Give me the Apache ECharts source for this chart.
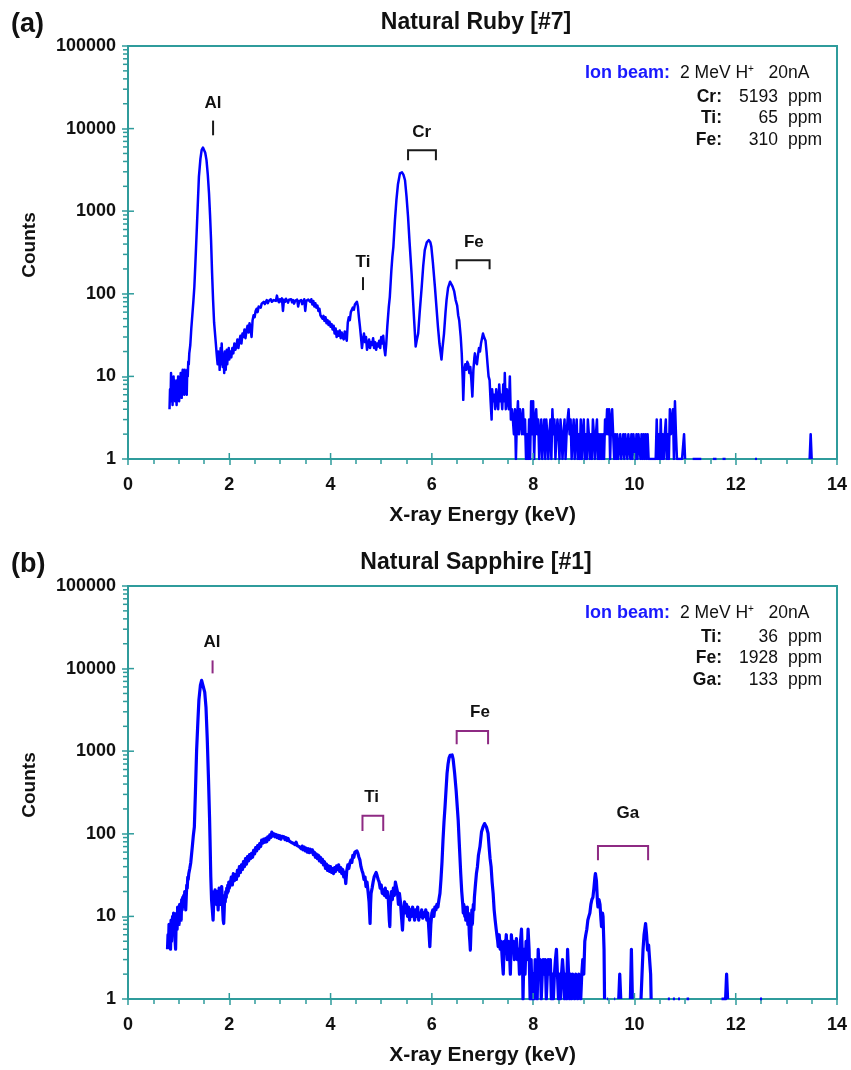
<!DOCTYPE html>
<html><head><meta charset="utf-8">
<script src="https://cdn.jsdelivr.net/npm/echarts@6/dist/echarts.min.js"></script>
<style>html,body{margin:0;padding:0;background:#fff}#c{width:851px;height:1070px}</style>
</head><body><div id="c"></div>
<script>
// ---------- DATA ----------
const xTicks = [0, 2, 4, 6, 8, 10, 12, 14];
const yTicks = [1, 10, 100, 1000, 10000, 100000];
const panelLetters = ['(a)', '(b)'];
const panelTitles = ['Natural Ruby [#7]', 'Natural Sapphire [#1]'];
const xTitle = 'X-ray Energy (keV)';
const yTitle = 'Counts';
const beamLabel = 'Ion beam:';
const beamText = ['2 MeV H', '+', '   20nA'];

// Ruby spectrum: [energy keV, counts]; null = zero counts
const rubySpectrum = [
[0.82,4],[0.83,7],[0.84,5],[0.85,11],[0.86,6],[0.87,9],[0.88,4.5],[0.89,8],[0.90,10],[0.91,6],[0.92,9],[0.93,5],[0.94,8],[0.95,7],[0.96,4.5],[0.97,9],[0.98,6],[0.99,10],[1.00,7],[1.01,5],[1.02,9],[1.03,6],[1.04,11],[1.05,8],[1.06,5.5],[1.07,10],[1.08,12],[1.09,7],[1.10,11],[1.11,6],[1.12,12],[1.13,8],[1.14,11],[1.15,9],[1.16,6],[1.17,12],[1.18,10],[1.19,15],[1.20,14],[1.21,19],
[1.23,24],[1.25,38],[1.27,55],[1.29,80],[1.31,121],[1.33,230],[1.355,537],[1.38,1300],[1.40,2600],[1.43,4300],[1.454,5480],[1.48,5900],[1.50,5750],[1.525,5100],[1.55,4150],[1.575,2800],[1.60,1630],[1.62,900],[1.64,446],[1.66,180],[1.68,84],[1.70,45],[1.73,27],[1.75,19],
[1.77,14],[1.78,20],[1.79,15],[1.80,17],[1.81,12],[1.82,18],[1.83,22],[1.84,14],[1.85,25],[1.86,17],[1.87,13],[1.88,19],[1.89,16],[1.90,11],[1.91,20],[1.92,15],[1.93,12],[1.94,18],[1.95,21],[1.96,14],[1.97,19],[1.98,17],[1.99,22],[2.00,16],
[2.02,20],[2.04,17],[2.06,22],[2.08,19],[2.10,25],[2.12,21],[2.14,23],[2.16,28],[2.18,22],[2.20,27],[2.22,31],[2.24,25],[2.26,33],[2.28,30],[2.30,37],[2.32,29],[2.34,36],[2.36,41],[2.38,34],[2.40,44],[2.42,38],[2.44,30],[2.46,48],[2.48,55],[2.50,52],[2.52,62],[2.54,66],[2.56,60],[2.58,70],
[2.60,72],[2.62,68],[2.64,76],[2.66,73],[2.68,80],[2.70,75],[2.72,78],[2.74,84],[2.76,77],[2.78,82],[2.80,79],[2.82,86],[2.84,80],[2.86,76],[2.88,84],[2.90,88],[2.92,82],[2.94,95],[2.96,84],[2.98,79],[3.00,86],[3.02,81],[3.04,88],[3.06,62],[3.08,85],[3.10,80],[3.12,87],[3.14,83],[3.16,78],[3.18,85],[3.20,82],[3.22,86],[3.24,79],[3.26,84],[3.28,76],[3.30,82],[3.32,79],[3.34,85],[3.36,70],[3.38,81],[3.40,77],[3.42,84],[3.44,75],[3.46,80],[3.48,86],[3.50,62],[3.52,82],[3.54,78],[3.56,85],[3.58,88],[3.60,80],[3.62,86],[3.64,74],[3.66,82],[3.68,70],
[3.70,77],[3.72,68],[3.74,72],[3.76,62],[3.78,66],[3.80,55],[3.82,58],[3.84,50],[3.86,54],[3.88,47],[3.90,52],[3.92,44],[3.94,48],[3.96,42],[3.98,46],[4.00,40],[4.02,43],[4.04,37],[4.06,41],[4.08,33],[4.10,38],[4.12,30],[4.14,35],[4.16,31],[4.18,36],[4.20,29],[4.22,34],[4.24,30],[4.26,28],[4.28,35],[4.30,30],[4.32,27],
[4.34,45],[4.36,52],[4.38,48],[4.40,60],[4.42,58],[4.44,68],[4.46,64],[4.48,74],[4.50,78],[4.52,80],[4.54,70],[4.56,52],[4.58,40],[4.60,30],[4.62,22],[4.64,28],[4.66,33],[4.68,26],[4.70,30],[4.72,21],[4.74,24],[4.76,28],[4.78,22],[4.80,26],[4.82,24],[4.84,29],[4.86,22],[4.88,26],[4.90,21],[4.92,25],[4.94,23],[4.96,27],[4.98,22],[5.00,30],[5.02,25],[5.04,31],[5.06,22],[5.08,18],[5.10,25],
[5.12,40],[5.15,70],[5.17,92],[5.20,190],[5.22,280],[5.24,370],[5.27,760],[5.30,1360],[5.33,2100],[5.37,2870],[5.41,2960],[5.44,2750],[5.47,2370],[5.50,1500],[5.53,855],[5.56,420],[5.60,175],[5.63,80],[5.65,48],[5.68,23],[5.70,27],[5.73,33],[5.76,60],[5.80,122],[5.83,220],[5.86,338],[5.90,420],[5.94,446],[5.97,420],[5.99,370],[6.02,240],[6.06,122],[6.09,70],[6.12,40],[6.15,25],[6.19,16],[6.21,22],[6.24,33],[6.27,60],[6.29,84],[6.32,118],[6.36,140],[6.38,138],[6.41,122],[6.44,108],[6.47,84],[6.50,72],[6.52,55],[6.54,48],[6.57,30],[6.59,19],[6.61,9],[6.62,5.2],
[6.64,12],[6.66,14],[6.68,12],[6.70,15],[6.72,14],[6.74,11],[6.76,13],[6.78,9],[6.80,5.7],[6.82,12],[6.84,17],[6.85,19],[6.87,15],[6.89,14],[6.91,18],[6.93,22],[6.95,20],[6.97,25],[6.99,24],[7.01,33],[7.03,30],[7.06,27],[7.08,20],[7.10,14],[7.12,10],[7.14,9],[7.16,5],[7.18,3],[7.19,7],[7.21,5],[7.23,6],[7.25,4],[7.27,7],[7.29,5],[7.31,4],[7.33,8],[7.35,5],[7.37,6],[7.39,4],[7.41,8],[7.43,5],[7.44,11],[7.46,4],[7.48,7],[7.50,5],[7.52,4],[7.54,10],[7.56,3],[7.58,4],
[7.60,3],[7.62,2],[7.64,4],[7.66,1],[7.68,3],[7.70,5],[7.72,2],[7.74,4],[7.76,3],[7.78,2],[7.80,4],[7.82,2],[7.84,3],[7.86,1],[7.88,2],[7.90,1],[7.92,3],[7.94,1],[7.96,5],[7.98,2],[8.00,5],[8.02,1],[8.04,3],[8.06,4],[8.08,2],[8.10,3],[8.12,1],[8.14,2],[8.16,3],[8.18,1],[8.20,2],[8.22,3],[8.24,1],[8.26,3],[8.28,2],[8.30,1],[8.32,2],[8.34,3],[8.36,1],[8.38,4],[8.40,2],[8.42,3],[8.44,1],[8.46,2],[8.48,3],[8.50,2],[8.52,1],[8.54,3],[8.56,2],[8.58,1],[8.60,2],[8.62,3],[8.64,1],[8.66,2],[8.68,3],[8.70,4],[8.72,2],[8.74,3],[8.76,1],[8.78,2],[8.80,3],[8.82,1],[8.84,2],[8.86,3],[8.88,1],[8.90,2],[8.92,1],[8.94,3],[8.96,1],[8.98,2],
[9.00,3],[9.02,1],[9.04,2],[9.06,1],[9.08,3],[9.10,2],[9.12,1],[9.14,2],[9.16,1],[9.18,3],[9.20,2],[9.22,1],[9.24,2],[9.26,3],[9.28,1],[9.30,2],[9.32,1],[9.34,2],[9.36,1],[9.38,2],[9.40,1],[9.42,3],[9.44,2],[9.46,4],[9.48,2],[9.50,4],[9.52,1],[9.54,3],[9.56,4],[9.58,2],[9.60,1],[9.62,2],[9.64,1],[9.66,2],[9.68,1],[9.70,1],[9.72,2],[9.74,1],[9.76,1],[9.78,2],[9.80,1],[9.82,2],[9.84,2],[9.86,1],[9.88,2],[9.90,2],[9.92,1],[9.94,2],[9.96,1],[9.98,2],
[10.00,2],[10.02,1],[10.04,2],[10.06,1],[10.08,2],[10.10,2],[10.12,1],[10.14,2],[10.16,1],[10.18,2],[10.20,1],[10.22,2],[10.24,1],[10.26,2],[10.28,1],[10.30,1],[10.34,1],[10.38,1],[10.42,1],[10.44,3],[10.46,1],[10.48,2],[10.50,1],[10.52,3],[10.54,1],[10.56,2],[10.58,1],[10.60,2],[10.62,3],[10.64,1],[10.66,2],[10.68,1],[10.70,4],[10.72,2],[10.74,3],[10.76,4],[10.78,1],[10.80,5],[10.82,2],[10.84,1],[10.86,1],[10.90,1],[10.94,1],[10.98,2],[11.00,1],[11.02,null],
[11.15,1],[11.32,1],[11.34,null],[11.55,1],[11.62,1],[11.64,null],[11.74,1],[11.80,1],[11.82,null],[12.38,1],[12.42,1],[12.44,null],[13.46,1],[13.48,2],[13.50,1],[13.52,null]
];

// Sapphire spectrum: [energy keV, counts]; null = zero counts
const sapphireSpectrum = [
[0.78,4],[0.79,6],[0.80,4.5],[0.81,8],[0.82,5],[0.83,7.5],[0.84,4],[0.85,9],[0.86,5],[0.87,7],[0.88,10],[0.89,6],[0.90,11],[0.91,7],[0.92,9],[0.93,5],[0.94,4],[0.95,8],[0.96,11],[0.97,7],[0.98,13],[0.99,9],[1.00,12],[1.01,8],[1.02,14],[1.03,10],[1.04,13],[1.05,9],[1.06,16],[1.07,12],[1.08,17],[1.09,13],[1.10,18],[1.11,14],[1.12,20],[1.13,15],[1.14,12],[1.15,17],[1.16,24],[1.17,22],[1.18,30],[1.19,28],[1.20,33],[1.22,38],
[1.24,45],[1.27,70],[1.29,95],[1.31,121],[1.33,300],[1.355,1030],[1.38,2300],[1.40,4150],[1.43,6300],[1.454,7200],[1.47,7300],[1.49,6900],[1.515,5200],[1.54,3400],[1.565,1400],[1.59,446],[1.61,160],[1.62,84],[1.635,30],[1.65,15.8],[1.665,12],[1.68,9],
[1.70,20],[1.71,17],[1.72,21],[1.73,16],[1.74,19],[1.75,14],[1.76,20],[1.77,17],[1.78,12],[1.79,18],[1.80,22],[1.81,16],[1.82,19],[1.83,14],[1.84,20],[1.85,23],[1.86,17],[1.87,12],[1.88,9],[1.89,8.2],[1.90,12],[1.91,18],[1.92,15],[1.93,20],[1.94,17],[1.95,22],[1.96,19],[1.97,24],[1.98,20],[1.99,26],[2.00,22],[2.02,25],
[2.04,30],[2.06,24],[2.08,33],[2.10,27],[2.12,32],[2.14,28],[2.16,36],[2.18,31],[2.20,40],[2.22,34],[2.24,42],[2.26,37],[2.28,46],[2.30,40],[2.32,50],[2.34,43],[2.36,53],[2.38,47],[2.40,56],[2.42,50],[2.44,58],[2.46,52],[2.48,63],[2.50,57],[2.52,68],[2.54,62],[2.56,72],[2.58,66],[2.60,76],[2.62,70],[2.64,84],[2.66,77],[2.68,86],[2.70,79],[2.72,88],[2.74,80],[2.76,92],[2.78,85],[2.80,97],[2.82,90],[2.84,105],[2.86,94],[2.88,100],[2.90,92],[2.92,98],[2.94,90],[2.96,96],[2.98,88],[3.00,95],
[3.02,86],[3.04,93],[3.06,88],[3.08,92],[3.10,85],[3.12,90],[3.14,83],[3.16,88],[3.18,82],[3.20,86],[3.22,79],[3.24,83],[3.26,77],[3.28,81],[3.30,74],[3.32,79],[3.34,72],[3.36,76],[3.38,70],[3.40,74],[3.42,66],[3.44,71],[3.46,64],[3.48,69],[3.50,62],[3.52,67],[3.54,60],[3.56,66],[3.58,59],[3.60,65],[3.62,60],[3.64,64],[3.66,56],[3.68,60],[3.70,52],[3.72,57],[3.74,50],[3.76,55],[3.78,47],[3.80,52],[3.82,45],[3.84,49],[3.86,42],[3.88,46],[3.90,38],[3.92,43],[3.94,36],[3.96,41],[3.98,35],[4.00,40],[4.02,34],[4.04,38],[4.06,33],[4.08,39],[4.10,35],[4.12,41],[4.14,37],[4.16,42],[4.18,35],[4.20,39],[4.22,33],[4.24,37],[4.26,30],[4.28,34],[4.30,25],[4.32,36],
[4.34,42],[4.36,38],[4.38,44],[4.40,48],[4.42,45],[4.44,55],[4.46,52],[4.48,60],[4.50,63],[4.52,62],[4.54,58],[4.56,52],[4.58,48],[4.60,40],[4.62,36],[4.64,33],[4.66,28],[4.68,30],[4.70,23],[4.72,26],[4.74,20],[4.76,15],[4.78,8.2],[4.79,14],[4.80,19],[4.82,22],[4.84,26],[4.86,30],[4.88,32],[4.90,34],[4.92,31],[4.94,28],[4.96,26],[4.98,22],[5.00,24],[5.02,19],[5.04,21],[5.06,18],[5.08,22],[5.10,17],[5.12,20],[5.14,16],[5.16,9],[5.17,7.5],[5.18,13],[5.20,20],[5.22,16],[5.24,22],[5.26,18],[5.28,26],[5.30,27],[5.32,20],[5.34,14],[5.36,19],[5.38,15],[5.40,10],[5.42,6.8],[5.44,12],[5.46,15],[5.48,11],[5.50,14],[5.52,10],[5.54,13],[5.56,9],[5.58,12],[5.60,10],[5.62,13],[5.64,11],[5.66,9],[5.68,12],[5.70,10],[5.72,13],[5.74,9],[5.76,11],[5.78,10],[5.80,12],[5.82,9.5],[5.84,11],[5.86,10],[5.88,12],[5.90,9],[5.92,11],[5.94,7],[5.96,4.3],[5.98,8],[6.00,11],[6.02,12],[6.04,10],[6.06,13],[6.08,12],[6.10,14],[6.12,13],[6.14,16],[6.16,19],[6.18,28],
[6.20,45],[6.22,84],[6.24,140],[6.26,212],[6.28,340],[6.30,540],[6.32,700],[6.34,830],[6.36,890],[6.38,930],[6.40,900],[6.42,800],[6.45,540],[6.48,330],[6.50,220],[6.52,146],[6.54,80],[6.57,33],[6.59,20],[6.61,14],[6.62,11],[6.63,14],[6.65,10],[6.66,13],[6.67,9],[6.68,12],[6.69,10],[6.70,13],[6.71,8],[6.72,11],[6.73,9],[6.74,6],[6.75,5],[6.76,3.9],[6.77,6],[6.78,9],[6.79,12],[6.80,8],[6.81,11],[6.82,14],[6.83,12],[6.84,17],[6.86,24],[6.88,33],[6.90,40],[6.92,55],[6.95,70],[6.98,105],[7.01,121],[7.04,133],[7.06,128],[7.08,120],[7.11,101],[7.13,70],[7.15,50],[7.17,40],[7.19,26],[7.21,19],[7.23,12],[7.25,9],[7.27,7],[7.28,6.8],[7.30,5],[7.31,4.3],
[7.33,6],[7.35,4],[7.37,5],[7.39,3],[7.41,2],[7.43,5],[7.45,4],[7.47,6],[7.49,3],[7.51,5],[7.53,4],[7.55,2],[7.57,6],[7.59,4],[7.61,5],[7.63,3],[7.65,4],[7.67,5.4],[7.69,3],[7.71,4],[7.73,2],[7.75,5],[7.77,7],[7.79,3],[7.80,1],[7.82,4],[7.84,2],[7.86,5],[7.88,3],[7.90,7],[7.92,4],[7.94,1],
[7.96,3],[7.98,1],[8.00,2],[8.02,1],[8.04,3],[8.06,2],[8.08,1],[8.10,4],[8.12,2],[8.14,3],[8.16,1],[8.18,2],[8.20,3],[8.22,2],[8.24,3],[8.26,1],[8.28,2],[8.30,3],[8.32,2],[8.34,3],[8.36,1],[8.38,2],[8.40,1],[8.42,2],[8.44,3],[8.46,4],[8.48,2],[8.50,1],[8.52,2],[8.54,1],[8.56,2],[8.58,3],[8.60,2],[8.62,1],[8.64,2],[8.66,1],[8.68,4],[8.70,2],[8.72,1],[8.74,2],[8.76,1],[8.78,2],[8.80,2],[8.82,1],[8.84,2],[8.86,2],[8.88,1],[8.90,2],[8.92,2],[8.94,1],[8.96,2],[8.98,3],[9.00,2],[9.02,5],[9.04,6],
[9.06,7],[9.08,9],[9.10,10],[9.12,11],[9.14,14],[9.16,16],[9.18,17],[9.20,22],[9.22,30],[9.23,33],[9.25,27],[9.27,15],[9.28,13],[9.30,16],[9.32,14],[9.34,9],[9.35,7.5],[9.37,11],[9.38,10],[9.40,4],[9.41,1],[9.43,null],
[9.46,1],[9.48,1],[9.50,null],[9.60,1],[9.62,1],[9.64,null],[9.69,1],[9.71,2],[9.73,1],[9.75,null],[9.92,1],[9.94,4],[9.96,1],[9.98,null],[10.13,1],[10.15,2],[10.17,4],[10.19,6],[10.22,8.2],[10.24,6],[10.26,3.9],[10.28,4.5],[10.30,4.3],[10.32,2],[10.33,1],[10.35,null],
[10.66,1],[10.70,1],[10.72,null],[10.76,1],[10.80,1],[10.82,null],[10.86,1],[10.90,1],[10.92,null],[11.03,1],[11.08,1],[11.10,null],[11.72,1],[11.76,1],[11.80,1],[11.82,2],[11.84,1],[11.86,null],[12.48,1],[12.52,1],[12.54,null]
];

// composition tables
const rubyElements = ['Cr:', 'Ti:', 'Fe:'];
const rubyPpm = [5193, 65, 310];
const sapphireElements = ['Ti:', 'Fe:', 'Ga:'];
const sapphirePpm = [36, 1928, 133];

// peak markers: element, energy from/to (keV), bracket top / leg end (counts), label position
const rubyMarkNames = ['Al', 'Ti', 'Cr', 'Fe'];
const rubyMarkFrom = [1.68, 4.64, 5.53, 6.49];
const rubyMarkTo = [1.68, 4.64, 6.08, 7.14];
const rubyMarkTop = [12500, 159, 5450, 255];
const rubyMarkEnd = [8300, 111, 4125, 198];
const rubyLabelE = [1.68, 4.64, 5.80, 6.83];
const rubyLabelC = [20200, 243, 9080, 424];

const sapphireMarkNames = ['Al', 'Ti', 'Fe', 'Ga'];
const sapphireMarkFrom = [1.67, 4.63, 6.49, 9.28];
const sapphireMarkTo = [1.67, 5.04, 7.11, 10.27];
const sapphireMarkTop = [12560, 165, 1755, 71];
const sapphireMarkEnd = [8750, 108, 1211, 48];
const sapphireLabelE = [1.66, 4.81, 6.95, 9.87];
const sapphireLabelC = [20700, 279, 2980, 176];

// ---------- STYLE ----------
const AXIS = '#2f9c9c';
const FONT = '"Liberation Sans", Arial, Helvetica, sans-serif';
const BLUE = '#0000ff';
const grids = [{ top: 46 }, { top: 586 }];
const markColors = ['#1a1a1a', '#8e2a83'];
const lineWidths = [2.5, 3.2];

function makeX(i) {
  return {
    type: 'value', gridIndex: i, min: 0, max: 14, interval: 2,
    axisLine: { show: true, onZero: false, lineStyle: { color: AXIS, width: 2 } },
    axisTick: { show: true, length: 6, lineStyle: { color: AXIS, width: 1.5 } },
    minorTick: { show: true, splitNumber: 4, length: 5, lineStyle: { color: AXIS, width: 1.5 } },
    splitLine: { show: false }, minorSplitLine: { show: false },
    axisLabel: { margin: 17, fontSize: 18, fontWeight: 'bold', fontFamily: FONT, color: '#111',
      formatter: v => String(v) },
    name: xTitle, nameLocation: 'middle', nameGap: 46,
    nameTextStyle: { fontSize: 21, fontWeight: 'bold', fontFamily: FONT, color: '#111' }
  };
}
function makeY(i) {
  return {
    type: 'log', logBase: 10, gridIndex: i, min: 1, max: 100000,
    axisLine: { show: true, lineStyle: { color: AXIS, width: 2 } },
    axisTick: { show: true, length: 6, lineStyle: { color: AXIS, width: 1.5 } },
    splitLine: { show: false },
    axisLabel: { margin: 12, fontSize: 18, fontWeight: 'bold', fontFamily: FONT, color: '#111',
      formatter: v => String(Math.round(v)) }
  };
}
function tickDecor(i) {
  return {
    type: 'custom', xAxisIndex: i, yAxisIndex: i, silent: true, clip: false, z: 5,
    data: [[0, 1]],
    renderItem: function (params, api) {
      const ch = [];
      const st = { stroke: AXIS, lineWidth: 1.5 };
      xTicks.forEach(e => {
        const p = api.coord([e, 1]);
        ch.push({ type: 'line', shape: { x1: p[0], y1: p[1], x2: p[0], y2: p[1] - 6 }, style: st });
      });
      yTicks.forEach(v => {
        const p = api.coord([0, v]);
        ch.push({ type: 'line', shape: { x1: p[0], y1: p[1], x2: p[0] + 6, y2: p[1] }, style: st });
      });
      for (let k = 0; k < yTicks.length - 1; k++) {
        for (let m = 2; m <= 9; m++) {
          const p = api.coord([0, m * yTicks[k]]);
          ch.push({ type: 'line', shape: { x1: p[0] - 5, y1: p[1], x2: p[0], y2: p[1] }, style: st });
        }
      }
      return { type: 'group', children: ch };
    }
  };
}
function markSeries(i, names, from, to, top, end, le, lc) {
  const color = markColors[i];
  return {
    type: 'custom', xAxisIndex: i, yAxisIndex: i, silent: true, clip: false, z: 6,
    data: names.map((n, k) => [from[k], top[k], to[k], end[k], le[k], lc[k]]),
    renderItem: function (params, api) {
      const k = params.dataIndex;
      const a = api.coord([api.value(0), api.value(3)]);
      const b = api.coord([api.value(0), api.value(1)]);
      const c = api.coord([api.value(2), api.value(1)]);
      const d = api.coord([api.value(2), api.value(3)]);
      const l = api.coord([api.value(4), api.value(5)]);
      const pts = api.value(0) === api.value(2) ? [a, b] : [a, b, c, d];
      return { type: 'group', children: [
        { type: 'polyline', shape: { points: pts }, style: { stroke: color, lineWidth: 2, fill: null } },
        { type: 'text', x: l[0], y: l[1], style: { text: names[k], align: 'center', verticalAlign: 'middle',
          textAlign: 'center', textVerticalAlign: 'middle', fontSize: 17, fontWeight: 'bold', fontFamily: FONT, fill: '#111' } }
      ] };
    }
  };
}

function textEl(x, y, text, o) {
  return Object.assign({ type: 'text', x: x, y: y, silent: true,
    style: Object.assign({ text: text, fontFamily: FONT, fill: '#111', align: 'left', verticalAlign: 'middle',
      textAlign: 'left', textVerticalAlign: 'middle' }, o.style) }, o.el || {});
}
const graphic = [];
const offs = [0, 540];
[[rubyElements, rubyPpm], [sapphireElements, sapphirePpm]].forEach((tbl, i) => {
  const dy = offs[i];
  graphic.push(textEl(11, 25 + dy, panelLetters[i], { style: { fontSize: 27, fontWeight: 'bold' } }));
  graphic.push(textEl(476, 23 + dy, panelTitles[i], { style: { fontSize: 23, fontWeight: 'bold', align: 'center', textAlign: 'center' } }));
  graphic.push(textEl(30, 245 + dy, yTitle, { style: { fontSize: 19, fontWeight: 'bold', align: 'center', textAlign: 'center' }, el: { rotation: Math.PI / 2 } }));
  graphic.push(textEl(670, 73 + dy, beamLabel, { style: { fontSize: 18, fontWeight: 'bold', fill: '#1a1aff', align: 'right', textAlign: 'right' } }));
  graphic.push(textEl(680, 73 + dy, '{r|' + beamText[0] + '}{s|' + beamText[1] + '}{r|' + beamText[2] + '}', { style: {
    fontSize: 17, rich: { r: { fontSize: 17.5, fontFamily: FONT, fill: '#111' }, s: { fontSize: 10, fontFamily: FONT, fill: '#111', verticalAlign: 'top' } } } }));
  const rowsY = [97, 118, 140];
  tbl[0].forEach((el, k) => {
    graphic.push(textEl(722, rowsY[k] + dy, el, { style: { fontSize: 17.5, fontWeight: 'bold', align: 'right', textAlign: 'right' } }));
    graphic.push(textEl(778, rowsY[k] + dy, String(tbl[1][k]), { style: { fontSize: 17.5, align: 'right', textAlign: 'right' } }));
    graphic.push(textEl(788, rowsY[k] + dy, 'ppm', { style: { fontSize: 17.5 } }));
  });
});

const chart = echarts.init(document.getElementById('c'), null, { renderer: 'canvas' });
chart.setOption({
  animation: false,
  backgroundColor: '#ffffff',
  grid: grids.map(g => ({ left: 128, top: g.top, width: 709, height: 413, show: true, borderColor: AXIS, borderWidth: 2, backgroundColor: 'transparent', containLabel: false })),
  xAxis: [makeX(0), makeX(1)],
  yAxis: [makeY(0), makeY(1)],
  series: [
    { type: 'line', xAxisIndex: 0, yAxisIndex: 0, data: rubySpectrum, showSymbol: false, symbol: 'none', connectNulls: false,
      lineStyle: { color: BLUE, width: lineWidths[0], join: 'round' }, z: 3 },
    { type: 'line', xAxisIndex: 1, yAxisIndex: 1, data: sapphireSpectrum, showSymbol: false, symbol: 'none', connectNulls: false,
      lineStyle: { color: BLUE, width: lineWidths[1], join: 'round' }, z: 3 },
    tickDecor(0), tickDecor(1),
    markSeries(0, rubyMarkNames, rubyMarkFrom, rubyMarkTo, rubyMarkTop, rubyMarkEnd, rubyLabelE, rubyLabelC),
    markSeries(1, sapphireMarkNames, sapphireMarkFrom, sapphireMarkTo, sapphireMarkTop, sapphireMarkEnd, sapphireLabelE, sapphireLabelC)
  ],
  graphic: graphic
});
</script></body></html>
